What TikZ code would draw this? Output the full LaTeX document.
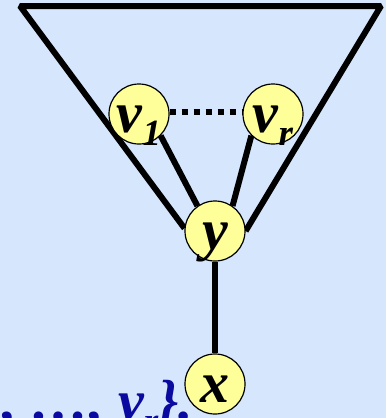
\documentclass[tikz,border=0pt]{standalone}
\usepackage{fontspec}
\setmainfont{Liberation Serif}
\usetikzlibrary{backgrounds,calc}
\definecolor{bg}{RGB}{214,230,253}
\definecolor{nodefill}{RGB}{255,255,153}
\definecolor{txtblue}{RGB}{10,10,160}
\newcommand{\subs}[1]{\raisebox{-13pt}[0pt][0pt]{\fontsize{37}{37}\selectfont #1}}
\begin{document}
\begin{tikzpicture}[x=1pt,y=-1pt,
  vert/.style={circle, draw=black, line width=1.2pt, fill=nodefill,
    minimum size=60pt, inner sep=0pt, text height=36pt, text depth=0pt,
    font=\fontsize{58}{58}\selectfont\bfseries\itshape},
  edge/.style={line width=6pt, line join=bevel},
  dotline/.style={line width=6.5pt, dash pattern=on 6.5pt off 5.5pt},
  settext/.style={text=txtblue, inner sep=0pt, anchor=base west,
    font=\fontsize{58}{58}\selectfont\bfseries\itshape},
]
\clip (0,0) rectangle (386,418);
\coordinate (tl) at (20,6);
\coordinate (tr) at (381,6);
\node[vert] (v1) at (139,114) {v\subs{1}};
\node[vert] (vr) at (273,114) {v\subs{r}};
\node[vert] (y) at (215,231) {y};
\node[vert] (x) at (215,384) {x};
\node[settext] (set) at (2,420) {, …, v\subs{r}\}.};
\begin{scope}[on background layer]
\fill[bg] (0,0) rectangle (386,418);
\draw[edge] (y.175) -- (tl) -- (tr) -- (y.east);
\draw[edge] (v1.-45) -- (y.125);
\draw[edge] (vr.225) -- (y.55);
\draw[edge] (y) -- (x);
\draw[dotline] ($(v1.east)+(0,-2)$) -- ($(vr.west)+(0,-2)$);
\end{scope}
\end{tikzpicture}
\end{document}
